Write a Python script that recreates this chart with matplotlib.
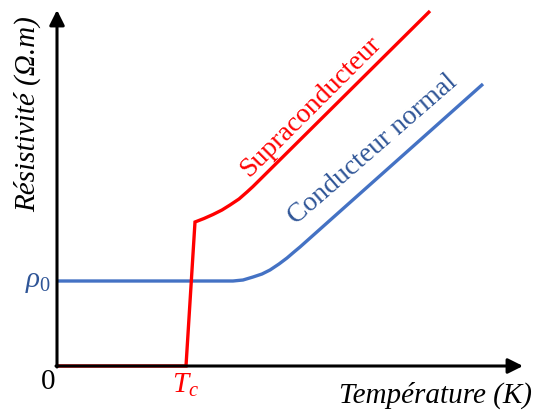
import numpy as np
import matplotlib
matplotlib.use("Agg")
from matplotlib import pyplot as plt

plt.rcParams['font.family'] = ['Liberation Serif', 'DejaVu Serif']
plt.rcParams['mathtext.fontset'] = 'custom'
plt.rcParams['mathtext.rm'] = 'Liberation Serif'
plt.rcParams['mathtext.it'] = 'Liberation Serif:italic'

# Courbes (unites arbitraires : temperature, resistivite)
T_supra = [0, 129, 138, 147, 156, 165, 173, 182, 190, 196, 373]
rho_supra = [0, 0, 144, 147.5, 151.5, 156, 161, 167, 174, 179.5, 355]

T_normal = [0, 176, 186, 196, 205, 213, 222, 230, 237, 243, 426]
rho_normal = [85, 85, 86, 89, 92, 96, 102, 108, 114, 119, 282]

# Position des reperes
Tc = 129
rho0 = 85

rouge = '#FF0000'
bleu = '#4472C4'
bleu_texte = '#2F5597'

fig = plt.figure(figsize=(5.36, 4.12), dpi=100)
ax = fig.add_axes([0, 0, 1, 1])
ax.set_xlim(-57, 479)
ax.set_ylim(-46, 366)
ax.axis('off')

# Axes avec fleches
fleche = dict(arrowstyle='-|>,head_length=0.9,head_width=0.45', color='black', lw=2.2,
              shrinkA=0, shrinkB=0)
ax.annotate('', xy=(466, 0), xytext=(-1, 0), arrowprops=fleche)
ax.annotate('', xy=(0, 356), xytext=(0, -1), arrowprops=fleche)

# Courbes
ax.plot(T_normal, rho_normal, color=bleu, lw=2.4, solid_capstyle='butt', solid_joinstyle='round')
ax.plot(T_supra, rho_supra, color=rouge, lw=2.4, solid_capstyle='butt', solid_joinstyle='miter')

# Textes
ax.text(-30, 252, 'Résistivité (Ω.m)', rotation=90, fontsize=21, style='italic',
        ha='center', va='center')
ax.text(475, -29, 'Température (K)', fontsize=21, style='italic', ha='right', va='center')
ax.text(-9, -16, '0', fontsize=21, ha='center', va='center')
ax.text(Tc, -19, r'$T_c$', fontsize=21, color=rouge, ha='center', va='center')
ax.text(-6, rho0 - 1, r'$\rho_0$', fontsize=21, color=bleu_texte, ha='right', va='center')

ax.text(254, 259, 'Supraconducteur', fontsize=20, color=rouge, rotation=45,
        ha='center', va='center', rotation_mode='anchor')
ax.text(316, 216, 'Conducteur normal', fontsize=20, color=bleu_texte, rotation=41,
        ha='center', va='center', rotation_mode='anchor')

plt.savefig('out.png', dpi=100)
